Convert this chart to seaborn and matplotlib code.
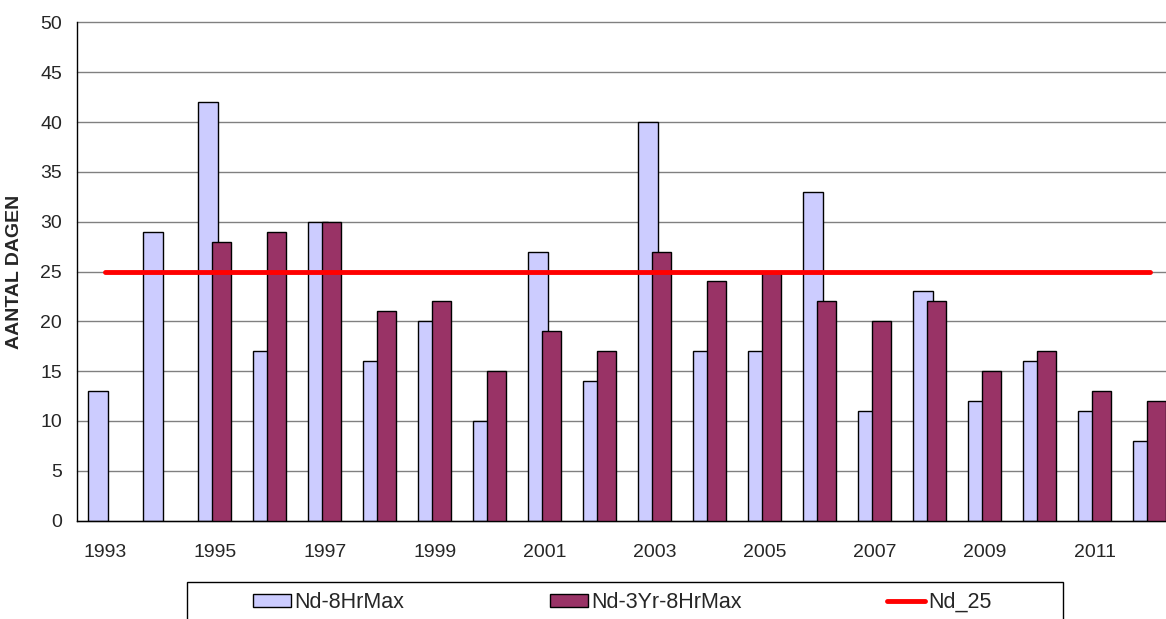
import numpy as np
import pandas as pd
import matplotlib
matplotlib.use('Agg')
import matplotlib.pyplot as plt
from matplotlib.patches import Rectangle
import seaborn as sns

# ---------------------------------------------------------------
# data
# ---------------------------------------------------------------
years = np.arange(1993, 2013)
nd_8hr = [13, 29, 42, 17, 30, 16, 20, 10, 27, 14,
          40, 17, 17, 33, 11, 23, 12, 16, 11, 8]
nd_3yr = [np.nan, np.nan, 28, 29, 30, 21, 22, 15, 19, 17,
          27, 24, 25, 22, 20, 22, 15, 17, 13, 12]
nd_25 = [25] * len(years)
yticks = np.arange(0, 51, 5)
xlabel_years = years[::2]

df = pd.DataFrame({'year': years, 'nd_8hr': nd_8hr,
                   'nd_3yr': nd_3yr, 'nd_25': nd_25})

# ---------------------------------------------------------------
# style
# ---------------------------------------------------------------
sns.set_style('white')
plt.rcParams['font.family'] = ['Liberation Sans', 'DejaVu Sans']

LIGHT = '#CCCCFF'
MAROON = '#993366'
W, H = 1166, 619

fig = plt.figure(figsize=(W / 100, H / 100), dpi=100)
# axes runs a bit past the right edge of the image, like the original crop
ax = fig.add_axes([77.3 / W, 98.5 / H, 1100 / W, 498 / H])

# overlapping bars, like Excel's default column chart
sns.barplot(x=df['year'] - 0.125, y=df['nd_8hr'], native_scale=True,
            width=0.35, color=LIGHT, saturation=1, edgecolor='black',
            linewidth=1, ax=ax, zorder=2)
sns.barplot(x=df['year'] + 0.125, y=df['nd_3yr'], native_scale=True,
            width=0.35, color=MAROON, saturation=1, edgecolor='black',
            linewidth=1, ax=ax, zorder=3)
sns.lineplot(x=df['year'], y=df['nd_25'], color='#FF0000', lw=3.5,
             ax=ax, zorder=4)

ax.set_xlim(years[0] - 0.5, years[-1] + 0.5)
ax.set_ylim(0, 50)
ax.set_yticks(yticks)
ax.yaxis.grid(True, color='#808080', lw=1)
for gl in ax.get_ygridlines():
    gl.set_clip_on(False)          # keep the line at 50 fully visible
ax.set_axisbelow(True)

# x: tick marks between categories, labels every other year
ax.set_xticks(np.append(years - 0.5, years[-1] + 0.5))
ax.set_xticklabels([])
ax.set_xticks(xlabel_years, minor=True)
ax.set_xticklabels([str(y) for y in xlabel_years], minor=True)
ax.tick_params(axis='x', which='major', length=5, width=1, color='black',
               direction='out')
ax.tick_params(axis='x', which='minor', length=0, pad=17, labelsize=14)
ax.tick_params(axis='y', length=5, width=1, color='black', direction='out',
               pad=6, labelsize=14)
ax.set_xlabel('')
ax.set_ylabel('AANTAL DAGEN', fontsize=14, fontweight='bold', labelpad=12)

for side in ['top', 'right']:
    ax.spines[side].set_visible(False)
for side in ['left', 'bottom']:
    ax.spines[side].set_color('black')
    ax.spines[side].set_linewidth(1)

# legend: frameless entries plus a plain box, cut off by the image bottom
handles = [
    Rectangle((0, 0), 1, 1, facecolor=LIGHT, edgecolor='black', lw=1),
    Rectangle((0, 0), 1, 1, facecolor=MAROON, edgecolor='black', lw=1),
    plt.Line2D([0], [0], color='#FF0000', lw=3.5),
]
fig.legend(handles, ['Nd-8HrMax', 'Nd-3Yr-8HrMax', 'Nd_25'],
           loc='upper left', bbox_to_anchor=(253 / W, 1 - 592 / H),
           ncol=3, frameon=False, fontsize=15.5, borderpad=0,
           borderaxespad=0, handlelength=1.77, handleheight=0.56,
           handletextpad=0.15, columnspacing=6.75)
fig.patches.append(Rectangle((186.7 / W, -0.05), (1063 - 186.7) / W,
                             1 - 581.7 / H + 0.05, transform=fig.transFigure,
                             fill=False, edgecolor='black', lw=1))

fig.savefig('out.png', dpi=100)
